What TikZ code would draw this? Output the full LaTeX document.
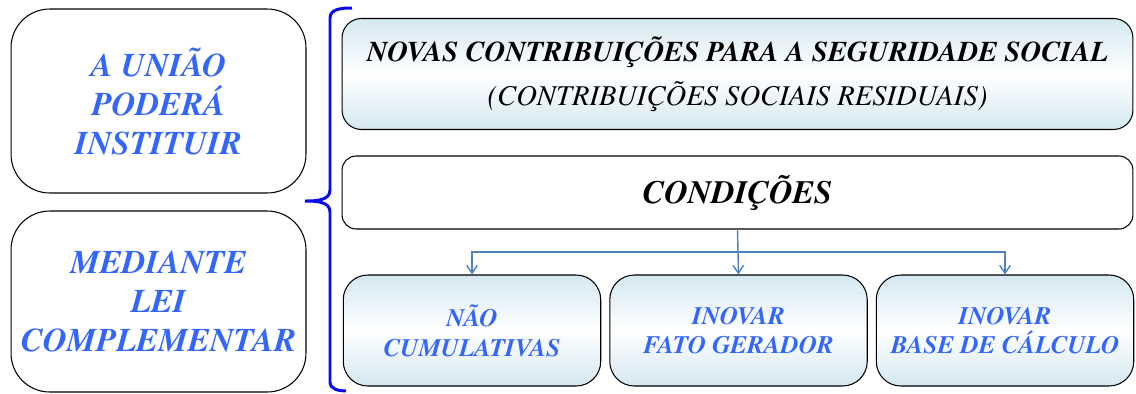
\documentclass[tikz,border=0pt]{standalone}
\usepackage[T1]{fontenc}
\usepackage{times}
\usetikzlibrary{arrows.meta}
\definecolor{textblue}{RGB}{51,102,250}
\definecolor{bracketblue}{RGB}{10,10,235}
\definecolor{linkblue}{RGB}{79,129,189}
\definecolor{shadeblue}{RGB}{212,232,241}
\tikzset{
  leftbox/.style={draw, line width=0.6pt, rounded corners=22pt, inner sep=0pt,
    minimum width=5.9cm, align=center, text=textblue,
    font=\fontsize{18.8}{22.3}\selectfont\bfseries\itshape},
  mainbox/.style={draw, line width=0.6pt, rounded corners=11pt, inner sep=0pt,
    minimum width=15.82cm, align=center},
  itembox/.style={draw, line width=0.6pt, rounded corners=14pt, inner sep=0pt,
    minimum width=5.15cm, minimum height=2.22cm, align=center, text=textblue,
    top color=shadeblue, bottom color=shadeblue, middle color=white,
    font=\fontsize{14.3}{17}\selectfont\bfseries\itshape},
  conn/.style={draw=linkblue, line width=0.8pt, -{Straight Barb[length=4.5pt, width=6pt]}},
  bracket/.style={draw=bracketblue, line width=1.7pt}
}
\begin{document}
\begin{tikzpicture}[x=0.02cm, y=-0.02cm]
  \useasboundingbox (0, 0) rectangle (1136, 393);

  % left column
  \node[leftbox, minimum height=3.68cm] (uniao) at (158.5, 101) {A UNIÃO\\PODERÁ\\INSTITUIR};
  \node[leftbox, minimum height=3.62cm] (lei) at (158.5, 301.5) {MEDIANTE\\LEI\\COMPLEMENTAR};

  % bracket
  \draw[bracket] (352, 8) to [out=180, in=90] (330, 18) -- (330, 190)
    to [out=-90, in=0] (305, 201) to [out=0, in=90] (330, 212) -- (330, 382)
    to [out=-90, in=180] (346, 391);

  % right column
  \node[mainbox, minimum height=2.22cm, top color=shadeblue, bottom color=shadeblue,
    middle color=white, font=\fontsize{16.3}{25}\selectfont\itshape] (novas) at (737.5, 74)
    {\bfseries NOVAS CONTRIBUIÇÕES PARA A SEGURIDADE SOCIAL\\
     (CONTRIBUIÇÕES SOCIAIS RESIDUAIS)};
  \node[mainbox, minimum height=1.46cm, rounded corners=8pt] (cond) at (737.5, 192.5)
    {\fontsize{18.5}{22}\selectfont\bfseries\itshape CONDIÇÕES};

  \node[itembox] (naocum) at (472, 330.5) {NÃO\\CUMULATIVAS};
  \node[itembox] (fato) at (738.5, 330.5) {INOVAR\\FATO GERADOR};
  \node[itembox] (base) at (1005, 330.5) {INOVAR\\BASE DE CÁLCULO};

  \coordinate (split) at (738.5, 252);
  \draw[conn] (cond.south) -- (fato.north);
  \draw[conn] (split) -| (naocum.north);
  \draw[conn] (split) -| (base.north);
\end{tikzpicture}
\end{document}
